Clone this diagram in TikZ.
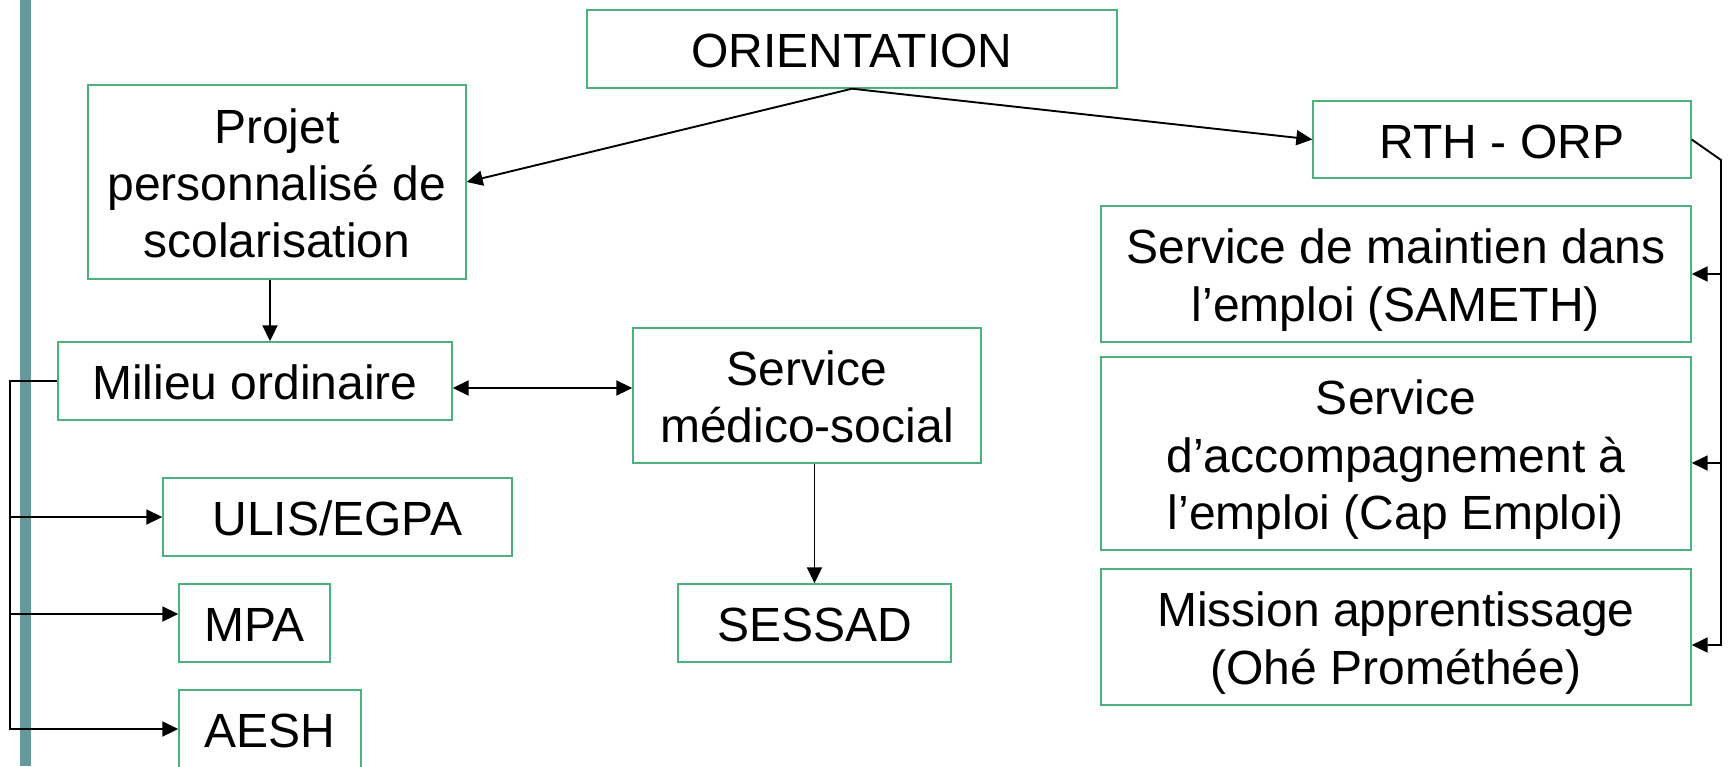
\documentclass[tikz,border=0pt]{standalone}
\usepackage{fontspec}
\setmainfont{Liberation Sans}
\usetikzlibrary{arrows.meta}
\definecolor{boxgreen}{RGB}{77,177,125}
\definecolor{barteal}{RGB}{102,153,153}
\newcommand\fs{\fontsize{24}{28.65}\selectfont}
\newcommand\st{\rule[-5.075pt]{0pt}{28.65pt}}
\begin{document}
\begin{tikzpicture}[x=0.5pt,y=-0.5pt,
  box/.style={draw=boxgreen, line width=0.7pt, inner sep=0pt, align=center, font=\fs},
  wh/.style 2 args={minimum width=#1*0.5pt, minimum height=#2*0.5pt},
  conn/.style={line width=0.95pt, -{Triangle[length=8pt,width=7.5pt]}},
  conntwo/.style={line width=0.95pt, {Triangle[length=8pt,width=7.5pt]}-{Triangle[length=8pt,width=7.5pt]}}]
\useasboundingbox (0,0) rectangle (1728,766);
\fill[barteal] (19.5,0) rectangle (30.5,766);

\node[box, wh={530}{78}]  (ori)     at (852,49)      {\st ORIENTATION};
\node[box, wh={378}{194}] (pps)     at (277,182)     {\st Projet\\\st personnalisé de\\\st scolarisation};
\node[box, wh={394}{78}]  (mil)     at (255,381)     {\st Milieu ordinaire};
\node[box, wh={349}{78}]  (ulis)    at (337.5,517)   {\st ULIS/EGPA};
\node[box, wh={151}{78}]  (mpa)     at (254.5,623)   {\st MPA};
\node[box, wh={182}{78}]  (aesh)    at (270,729)     {\st AESH};
\node[box, wh={348}{135}] (sms)     at (807,395.5)   {\st Service\\\st médico-social};
\node[box, wh={273}{78}]  (sessad)  at (814.5,623)   {\st SESSAD};
\node[box, wh={378}{77}]  (rth)     at (1502,139.5)  {\st RTH - ORP};
\node[box, wh={590}{136}] (sameth)  at (1396,274)    {\st Service de maintien dans\\\st l’emploi (SAMETH)};
\node[box, wh={590}{193}] (cap)     at (1396,453.5)  {\st Service\\\st d’accompagnement à\\\st l’emploi (Cap Emploi)};
\node[box, wh={590}{136}] (mission) at (1396,637)    {\st Mission apprentissage\\\st (Ohé Prométhée)};

\coordinate (px) at (270,0);
\coordinate (my) at (0,388);
\coordinate (L) at (10,0);
\coordinate (mpay) at (0,614);
\coordinate (R) at (1721,0);
\coordinate (Rk) at (1721,160);
\coordinate (capy) at (0,463);
\coordinate (misy) at (0,645);

\draw[conn] (ori.south) -- (pps.east);
\draw[conn] (ori.south) -- (rth.west);
\draw[conn] (px |- pps.south) -- (px |- mil.north);
\draw[conntwo] (my -| mil.east) -- (my -| sms.west);
\draw[conn] (sessad.north |- sms.south) -- (sessad.north);

\draw[conn] (mil.west) -- (mil.west -| L) -- (aesh.west -| L) -- (aesh.west);
\draw[conn] (ulis.west -| L) -- (ulis.west);
\draw[conn] (mpay -| L) -- (mpay -| mpa.west);

\draw[conn] (rth.east) -- (Rk) -- (misy -| R) -- (misy -| mission.east);
\draw[conn] (sameth.east -| R) -- (sameth.east);
\draw[conn] (capy -| R) -- (capy -| cap.east);
\end{tikzpicture}
\end{document}
